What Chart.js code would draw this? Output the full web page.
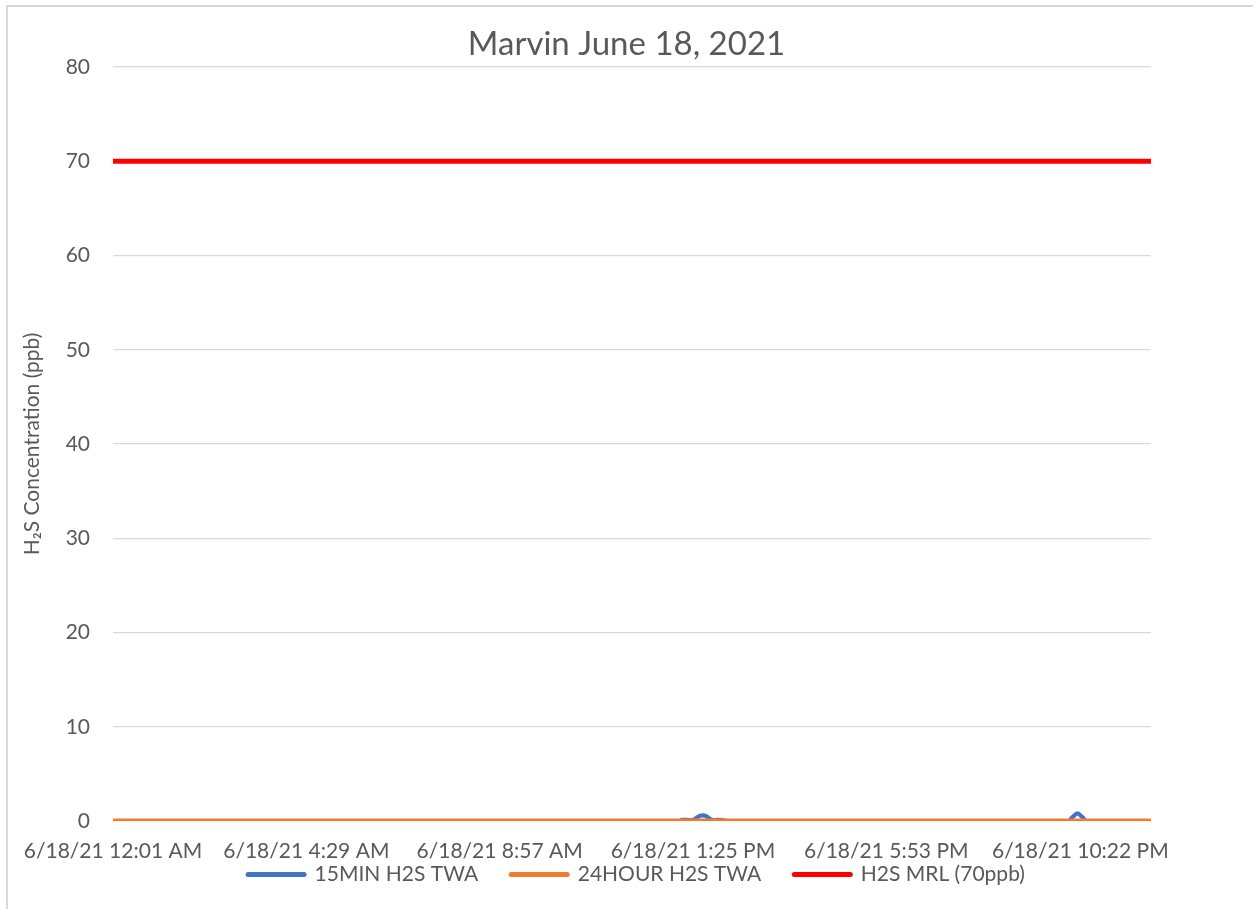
<!DOCTYPE html>
<html>
<head>
<meta charset="utf-8">
<script src="https://cdn.jsdelivr.net/npm/chart.js@4.4.1/dist/chart.umd.min.js"></script>
<style>
  html, body { margin: 0; padding: 0; background: #ffffff; overflow: hidden; }
  #frame { position: absolute; left: 6px; top: 5px; width: 1400px; height: 1000px;
           border-left: 2px solid #d9d9d9; border-top: 2px solid #d9d9d9; box-sizing: border-box; }
  #wrap { position: absolute; left: 0; top: 0; width: 1253px; height: 909px; }
</style>
</head>
<body>
<div id="frame"></div>
<div id="wrap"><canvas id="c" width="1253" height="909"></canvas></div>
<script>
// ---- data (minutes since midnight on 6/18/21) ----
const tickMinutes = [1, 269, 537, 805, 1073, 1342];
const tickLabels = ["6/18/21 12:01 AM", "6/18/21 4:29 AM", "6/18/21 8:57 AM",
                    "6/18/21 1:25 PM", "6/18/21 5:53 PM", "6/18/21 10:22 PM"];
const yTicks = [0, 10, 20, 30, 40, 50, 60, 70, 80];

const twa15Minutes = [1, 786, 790, 798, 805, 810, 815, 819, 824, 829, 834, 838, 846, 852, 1325, 1331, 1338, 1345, 1351, 1440];
const twa15Values  = [0, 0, 0.12, 0.12, 0.1, 0.35, 0.55, 0.6, 0.5, 0.2, 0.08, 0.12, 0.1, 0, 0, 0.4, 0.8, 0.4, 0, 0];

const twa24Minutes = [1, 1440];
const twa24Values  = [0, 0];

const mrlMinutes = [1, 1440];
const mrlValues  = [70, 70];

const seriesNames = ["15MIN H2S TWA", "24HOUR H2S TWA", "H2S MRL (70ppb)"];
const seriesColors = ["#4472C4", "#ED7D31", "#FF0000"];

const toPts = (xs, ys) => xs.map((x, i) => ({ x: x, y: ys[i] }));

const FONT = "Lato, 'Noto Sans', 'DejaVu Sans', sans-serif";
const GREY = "#595959";

const placeBlocks = {
  id: "placeBlocks",
  afterLayout(chart) {
    const t = chart.titleBlock;
    if (t) { t.left = 0; t.right = 1253; t.width = 1253; }
    const l = chart.legend;
    if (l) { l.left = 20; l.right = 1253; l.width = 1233; l.top = 831; }
  }
};

new Chart(document.getElementById("c"), {
  type: "line",
  data: {
    datasets: [
      { label: seriesNames[0], data: toPts(twa15Minutes, twa15Values), borderColor: seriesColors[0], backgroundColor: seriesColors[0], borderWidth: 4.2, pointRadius: 0, tension: 0.3, order: 3, borderCapStyle: "round", borderJoinStyle: "round" },
      { label: seriesNames[1], data: toPts(twa24Minutes, twa24Values), borderColor: seriesColors[1], backgroundColor: seriesColors[1], borderWidth: 5, pointRadius: 0, order: 2 },
      { label: seriesNames[2], data: toPts(mrlMinutes, mrlValues), borderColor: seriesColors[2], backgroundColor: seriesColors[2], borderWidth: 5, pointRadius: 0, order: 1 }
    ]
  },
  plugins: [placeBlocks],
  options: {
    responsive: false,
    animation: false,
    events: [],
    layout: { padding: { left: 0, right: 102, top: 25, bottom: -19 } },
    plugins: {
      title: {
        display: true,
        text: "Marvin June 18, 2021",
        color: GREY,
        font: { family: FONT, size: 33, weight: "normal", lineHeight: 1.2 },
        padding: { top: 0, bottom: 2.4 }
      },
      legend: {
        display: true,
        position: "bottom",
        labels: {
          color: GREY,
          font: { family: FONT, size: 21 },
          usePointStyle: true,
          pointStyle: "line",
          pointStyleWidth: 56,
          boxHeight: 19,
          padding: 33,
          sort: (a, b) => a.datasetIndex - b.datasetIndex,
          generateLabels: (chart) => {
            const items = Chart.defaults.plugins.legend.labels.generateLabels(chart);
            items.forEach((it) => { it.lineWidth = 5; it.lineCap = "round"; });
            return items;
          }
        }
      },
      tooltip: { enabled: false }
    },
    scales: {
      x: {
        type: "linear",
        min: 1,
        max: 1440,
        grid: { display: false },
        border: { display: false },
        afterBuildTicks: (axis) => { axis.ticks = tickMinutes.map(v => ({ value: v })); },
        afterFit: (axis) => { axis.height = 43; },
        ticks: {
          autoSkip: false,
          maxRotation: 0,
          color: GREY,
          font: { family: FONT, size: 21, lineHeight: 1.2 },
          padding: 10,
          callback: (v, i) => tickLabels[i]
        }
      },
      y: {
        min: 0,
        max: 80,
        afterBuildTicks: (axis) => { axis.ticks = yTicks.map(v => ({ value: v })); },
        afterFit: (axis) => { axis.width = 113; },
        grid: { color: "#d9d9d9", lineWidth: 1.3, drawTicks: false },
        border: { display: false },
        ticks: {
          color: GREY,
          font: { family: FONT, size: 21 },
          padding: 23
        },
        title: {
          display: true,
          text: "H\u2082S Concentration (ppb)",
          color: GREY,
          font: { family: FONT, size: 21, lineHeight: 1.2 },
          padding: { top: 20, bottom: 0 }
        }
      }
    }
  }
});
</script>
</body>
</html>
